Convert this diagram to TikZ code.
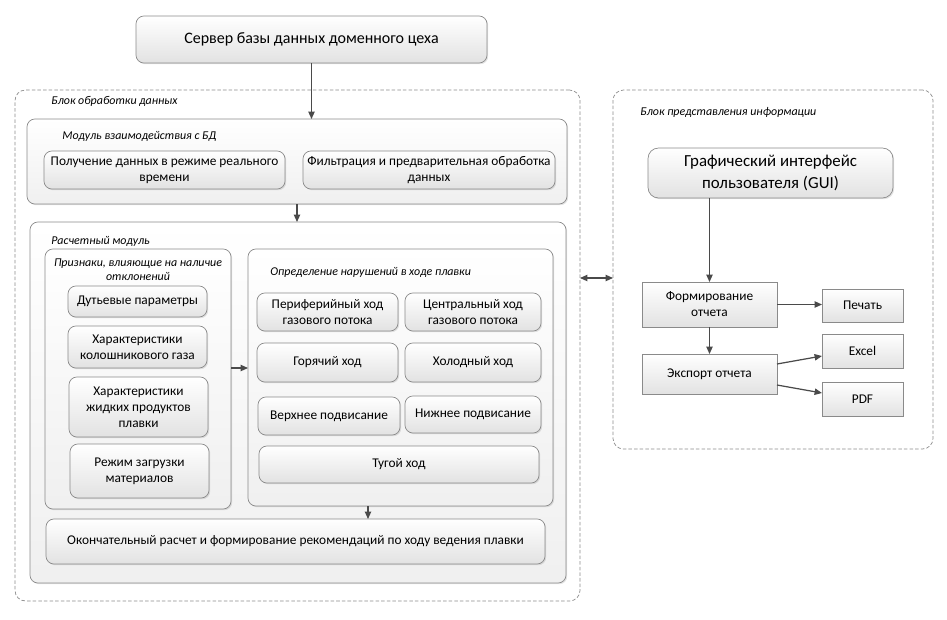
\documentclass[tikz,border=0pt]{standalone}
\usepackage{fontspec}
\setmainfont{Carlito}
\usetikzlibrary{shadows,arrows.meta}
\definecolor{edge}{HTML}{8A8A8A}
\definecolor{arrc}{HTML}{4A4A4A}
\definecolor{shd}{HTML}{E2E2E2}
\tikzset{
    sz/.style 2 args={minimum width=#1*0.02cm, minimum height=#2*0.02cm},
    rbox/.style={draw=edge, line width=0.4pt, rounded corners=4.5pt, top color=white, bottom color=shd,
        drop shadow={opacity=0.22, shadow xshift=0.7pt, shadow yshift=-0.7pt},
        align=center, inner sep=1pt, outer sep=0pt, font=\fontsize{7.6}{9.1}\selectfont},
    sbox/.style={rbox, rounded corners=0pt},
    cont/.style={rbox, bottom color=gray!12},
    dbox/.style={draw=edge, line width=0.4pt, dash pattern=on 2pt off 1.2pt, rounded corners=6pt, outer sep=0pt},
    lbl/.style={anchor=west, inner sep=0pt, font=\fontsize{6.8}{8.2}\selectfont\itshape},
    arr/.style={->, draw=arrc, line width=0.7pt}
}
\begin{document}
\begin{tikzpicture}[x=0.02cm, y=-0.02cm, >={Triangle[length=4.2pt,width=3.6pt]}]
\useasboundingbox (0, 0) rectangle (947, 619);

        %%Server
        \node[rbox, sz={351}{47}, font=\fontsize{9.1}{10.8}\selectfont] (server) at (311.5, 39.5){Сервер базы данных доменного цеха};

        %%B1
        \node[dbox, sz={565}{511}] (proc) at (297.5, 345.5){};
        \node[lbl] (proclbl) at (51, 101){Блок обработки данных};
        \node[cont, sz={540}{85}] (mod) at (297, 161.5){};
        \node[lbl] (modlbl) at (62, 136){Модуль взаимодействия с БД};
        \node[rbox, sz={241}{38}] (get) at (164.5, 170){Получение данных в режиме реального\\времени};
        \node[rbox, sz={252}{38}] (filt) at (429, 170){Фильтрация и предварительная обработка\\данных};

        \node[cont, sz={536}{361}] (calc) at (298, 402.5){};
        \node[lbl] (calclbl) at (51, 241){Расчетный модуль};

        %%Priznaki
        \node[cont, sz={186}{260}] (feat) at (138, 379){};
        \node[lbl, anchor=center, align=center] (featlbl) at (138, 270){Признаки, влияющие на наличие\\отклонений};
        \node[rbox, sz={139}{31}] (blow) at (137.5, 301.5){Дутьевые параметры};
        \node[rbox, sz={139}{42}] (gas) at (137.5, 347){Характеристики\\колошникового газа};
        \node[rbox, sz={139}{60}] (liq) at (138.5, 407){Характеристики\\жидких продуктов\\плавки};
        \node[rbox, sz={139}{54}] (load) at (139.5, 471){Режим загрузки\\материалов};

        %%Narusheniya
        \node[cont, sz={305}{257}] (viol) at (400.5, 377.5){};
        \node[lbl] (viollbl) at (270, 272){Определение нарушений в ходе плавки};
        \node[rbox, sz={141}{38}] (per) at (327.5, 312){Периферийный ход\\газового потока};
        \node[rbox, sz={136}{38}] (cen) at (473, 312){Центральный ход\\газового потока};
        \node[rbox, sz={141}{39}] (hot) at (327.5, 362.5){Горячий ход};
        \node[rbox, sz={136}{39}] (cold) at (473, 362.5){Холодный ход};
        \node[rbox, sz={142}{38}] (up) at (329, 416){Верхнее подвисание};
        \node[rbox, sz={136}{37}] (low) at (473, 414.5){Нижнее подвисание};
        \node[rbox, sz={280}{37}] (tight) at (399, 464.5){Тугой ход};

        \node[rbox, sz={499}{45}] (fin) at (295.5, 541.5){Окончательный расчет и формирование рекомендаций по ходу ведения плавки};

        %%B2
        \node[dbox, sz={320}{359}] (info) at (773, 269.5){};
        \node[lbl] (infolbl) at (640, 112){Блок представления информации};
        \node[rbox, sz={245}{50}, rounded corners=6pt, font=\fontsize{9.6}{12.8}\selectfont] (gui) at (770.5, 173){Графический интерфейс\\пользователя (GUI)};
        \node[sbox, sz={135}{45}] (rep) at (709.5, 304.5){Формирование\\отчета};
        \node[sbox, sz={135}{40}] (exp) at (709.5, 374){Экспорт отчета};
        \node[sbox, sz={81}{33}] (print) at (862.5, 305.5){Печать};
        \node[sbox, sz={81}{34}] (excel) at (862.5, 351){Excel};
        \node[sbox, sz={81}{34}] (pdf) at (862.5, 399){PDF};

        %%arrows
        \coordinate (mid) at (0, 278);
            \draw[arr](server.south) to (server.south |- mod.north);
            \draw[arr](mod.south) to (mod.south |- calc.north);
            \draw[arr]([yshift=0.22cm]feat.east) to ([yshift=0.22cm]feat.east -| viol.west);
            \draw[arr]([xshift=-0.65cm]viol.south) to ([xshift=-0.65cm]viol.south |- fin.north);
            \draw[arr, <->](proc.east |- mid) to (info.west |- mid);
            \draw[arr](rep.north |- gui.south) to (rep.north);
            \draw[arr](rep.east) to (rep.east -| print.west);
            \draw[arr](rep.south) to (exp.north);
            \draw[arr]([yshift=0.2cm]exp.east) to ([yshift=-0.1cm]excel.west);
            \draw[arr]([yshift=-0.22cm]exp.east) to ([yshift=0.12cm]pdf.west);

\end{tikzpicture}
\end{document}
